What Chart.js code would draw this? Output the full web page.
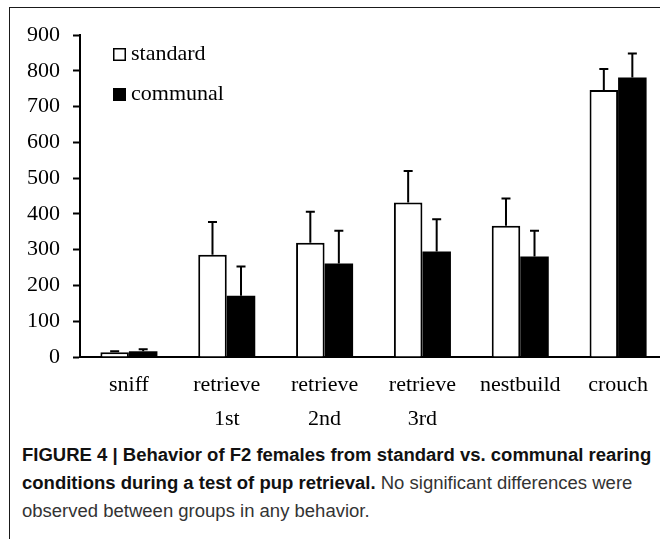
<!DOCTYPE html>
<html>
<head>
<meta charset="utf-8">
<script src="https://cdn.jsdelivr.net/npm/chart.js@4/dist/chart.umd.min.js"></script>
<style>
  html, body { margin: 0; padding: 0; background: #fff; overflow: hidden; width: 660px; height: 539px; }
  #frame { position: absolute; left: 9px; top: 7px; width: 700px; height: 600px;
           border-top: 1px solid #1a1a1a; border-left: 1px solid #1a1a1a; box-sizing: border-box; }
  #c { position: absolute; left: 0; top: 0; width: 680px; height: 440px; }
  #caption { position: absolute; left: 22px; top: 441px; font-family: "Liberation Sans Narrow", "Liberation Sans", sans-serif;
             font-size: 17.5px; line-height: 28px; color: #333; }
  #caption div { white-space: nowrap; transform-origin: 0 0; }
  #caption b { color: #111; font-weight: bold; }
</style>
</head>
<body>
<div id="frame"></div>
<canvas id="c" width="680" height="440"></canvas>
<div id="caption">
  <div><b>FIGURE 4 | Behavior of F2 females from standard vs. communal rearing</b></div>
  <div><b>conditions during a test of pup retrieval.</b> No significant differences were</div>
  <div>observed between groups in any behavior.</div>
</div>
<script>
const categories = ['sniff', ['retrieve', '1st'], ['retrieve', '2nd'], ['retrieve', '3rd'], 'nestbuild', 'crouch'];
const seriesNames = ['standard', 'communal'];
const standardMeans = [13, 286, 319, 432, 367, 746];
const standardSEM   = [3, 91, 87, 88, 76, 59];
const communalMeans = [16, 171, 261, 295, 281, 781];
const communalSEM   = [6, 82, 92, 90, 72, 67];
const yTicks = [0, 100, 200, 300, 400, 500, 600, 700, 800, 900];

const serif = "'Liberation Serif', 'Times New Roman', serif";

const errorBars = {
  id: 'errorBars',
  afterDatasetsDraw(chart) {
    const ctx = chart.ctx;
    const ys = chart.scales.y;
    ctx.save();
    ctx.strokeStyle = '#000';
    ctx.lineWidth = 2;
    chart.data.datasets.forEach((ds, i) => {
      const meta = chart.getDatasetMeta(i);
      meta.data.forEach((el, j) => {
        const top = ys.getPixelForValue(ds.data[j] + ds.sem[j]);
        ctx.beginPath();
        ctx.moveTo(el.x, el.y);
        ctx.lineTo(el.x, top);
        ctx.moveTo(el.x - 4.5, top);
        ctx.lineTo(el.x + 4.5, top);
        ctx.stroke();
      });
    });
    ctx.restore();
  }
};

const legendPlugin = {
  id: 'customLegend',
  afterDraw(chart) {
    const ctx = chart.ctx;
    ctx.save();
    ctx.font = Chart.helpers.toFont({ family: serif, size: 22 }).string;
    ctx.textBaseline = 'middle';
    ctx.textAlign = 'left';
    const boxX = 113, size = 13;
    const rows = [48, 88];
    chart.data.datasets.forEach((ds, i) => {
      const y = rows[i];
      ctx.fillStyle = ds.backgroundColor;
      ctx.fillRect(boxX, y, size, size);
      ctx.strokeStyle = '#000';
      ctx.lineWidth = 1.5;
      ctx.strokeRect(boxX + 0.75, y + 0.75, size - 1.5, size - 1.5);
      ctx.fillStyle = '#000';
      ctx.fillText(ds.label, boxX + size + 5, y + size / 2);
    });
    ctx.restore();
  }
};

new Chart(document.getElementById('c'), {
  type: 'bar',
  data: {
    labels: categories,
    datasets: [
      { label: seriesNames[0], data: standardMeans, sem: standardSEM, backgroundColor: '#ffffff',
        borderColor: '#000', borderWidth: 2, borderSkipped: 'start' },
      { label: seriesNames[1], data: communalMeans, sem: communalSEM, backgroundColor: '#000000',
        borderColor: '#000', borderWidth: 0 }
    ]
  },
  options: {
    responsive: false,
    animation: false,
    devicePixelRatio: 1,
    font: { family: serif },
    layout: { padding: { left: 0, top: 35, right: 13, bottom: 0 } },
    datasets: { bar: { categoryPercentage: 0.583, barPercentage: 1.0 } },
    plugins: { legend: { display: false }, tooltip: { enabled: false } },
    scales: {
      x: {
        grid: { display: false },
        border: { display: true, color: '#000', width: 2 },
        ticks: { color: '#000', font: { family: serif, size: 22, lineHeight: 1.55 }, padding: 3, maxRotation: 0, autoSkip: false },
        afterFit(scale) { scale.height = 83; }
      },
      y: {
        min: 0, max: 900,
        afterBuildTicks(scale) { scale.ticks = yTicks.map(v => ({ value: v })); },
        grid: { display: true, drawOnChartArea: false, drawTicks: true, tickLength: 7, tickWidth: 2, color: '#000' },
        border: { display: true, color: '#000', width: 2 },
        ticks: { color: '#000', font: { family: serif, size: 22 }, padding: 13 },
        afterFit(scale) { scale.width = 80; }
      }
    }
  },
  plugins: [errorBars, legendPlugin]
});

// fit caption lines to the reference width
(function () {
  const lines = document.querySelectorAll('#caption div');
  const w = lines[0].scrollWidth;
  const s = 629 / w;
  lines.forEach(l => { l.style.transform = 'scaleX(' + s + ')'; });
})();
</script>
</body>
</html>
